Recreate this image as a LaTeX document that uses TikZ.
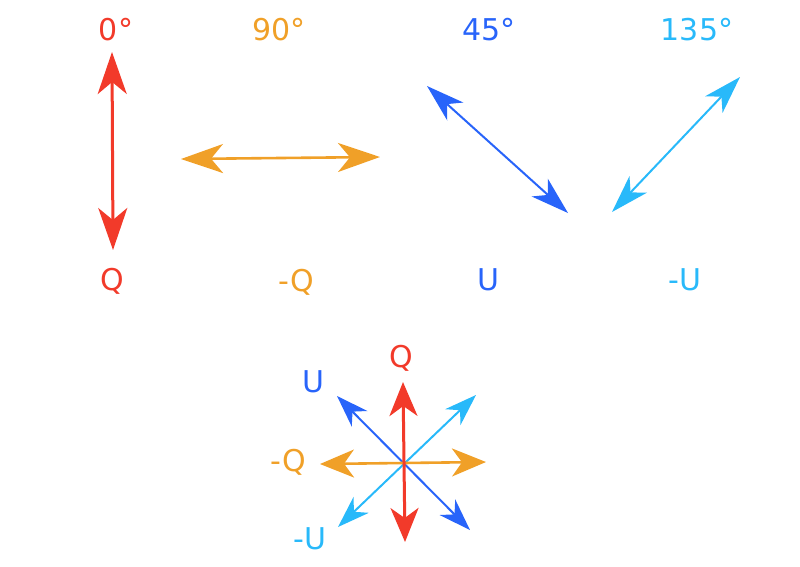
\documentclass[tikz,border=0pt]{standalone}
\usepackage{fontspec}
\setmainfont{DejaVu Sans}
\usetikzlibrary{arrows.meta}
\definecolor{cred}{RGB}{242,58,42}
\definecolor{corange}{RGB}{240,160,40}
\definecolor{cblue}{RGB}{40,100,250}
\definecolor{ccyan}{RGB}{40,185,250}
\tikzset{
  lbl/.style={inner sep=0pt, font=\fontsize{30}{33}\selectfont},
  bigarr/.style={line width=3pt, {Stealth[length=42pt,width=29pt,inset=12pt]}-{Stealth[length=42pt,width=29pt,inset=12pt]}},
  medarr/.style={line width=2pt, {Stealth[length=38pt,width=24pt,inset=11pt]}-{Stealth[length=38pt,width=24pt,inset=11pt]}},
  smallbig/.style={line width=3pt, {Stealth[length=34pt,width=28pt,inset=10pt]}-{Stealth[length=34pt,width=28pt,inset=10pt]}},
  smallmed/.style={line width=2pt, {Stealth[length=32pt,width=22pt,inset=10pt]}-{Stealth[length=32pt,width=22pt,inset=10pt]}},
}
\begin{document}
\begin{tikzpicture}[x=1pt,y=-1pt]
\useasboundingbox (0,0) rectangle (800,566);
% top labels
\node[lbl,text=cred] (t0) at (116,30) {0°};
\node[lbl,text=corange] (t90) at (279,30) {90°};
\node[lbl,text=cblue] (t45) at (489,30) {45°};
\node[lbl,text=ccyan] (t135) at (697,30) {135°};
% bottom labels of top row
\node[lbl,text=cred] (lq) at (112,281) {Q};
\node[lbl,text=corange] (lmq) at (296,282) {-Q};
\node[lbl,text=cblue] (lu) at (488,280) {U};
\node[lbl,text=ccyan] (lmu) at (685,280) {-U};
% top arrows
\coordinate (r1) at (112,52); \coordinate (r2) at (113,250);
\coordinate (o1) at (181,159); \coordinate (o2) at (380,157);
\coordinate (b1) at (427,86); \coordinate (b2) at (568,213);
\coordinate (c1) at (740,77); \coordinate (c2) at (612,212);
\draw[bigarr,draw=cred,fill=cred] (r1) -- (r2);
\draw[bigarr,draw=corange,fill=corange,line width=2.6pt] (o1) -- (o2);
\draw[medarr,draw=cblue,fill=cblue] (b1) -- (b2);
\draw[medarr,draw=ccyan,fill=ccyan] (c1) -- (c2);
% star
\coordinate (sr1) at (403,382); \coordinate (sr2) at (405,542);
\coordinate (so1) at (320,464); \coordinate (so2) at (486,462);
\coordinate (sb1) at (337,396); \coordinate (sb2) at (470,530);
\coordinate (sc1) at (476,395); \coordinate (sc2) at (338,527);
\draw[smallmed,draw=cblue,fill=cblue] (sb1) -- (sb2);
\draw[smallmed,draw=ccyan,fill=ccyan] (sc1) -- (sc2);
\draw[smallbig,draw=corange,fill=corange,line width=2.6pt] (so1) -- (so2);
\draw[smallbig,draw=cred,fill=cred] (sr1) -- (sr2);
\node[lbl,text=cred] (sq) at (401,358) {Q};
\node[lbl,text=cblue] (su) at (313,382) {U};
\node[lbl,text=corange] (smq) at (288,462) {-Q};
\node[lbl,text=ccyan] (smu) at (310,539) {-U};
\end{tikzpicture}
\end{document}
